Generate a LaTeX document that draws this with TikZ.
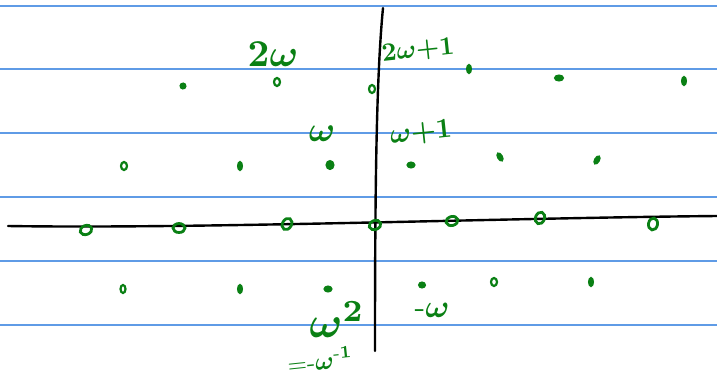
\documentclass[tikz,border=0pt]{standalone}
\usepackage{amsmath}
\usetikzlibrary{shapes.geometric}
\definecolor{ink}{RGB}{10,128,20}
\definecolor{rule}{RGB}{95,155,230}
\tikzset{
  ruleline/.style={rule, line width=1.1pt},
  axis/.style={black, line width=2.4pt, line cap=round},
  bigdot/.style={ellipse, draw=ink, line width=2.8pt, minimum width=12pt, minimum height=9pt, inner sep=0pt},
  smalldot/.style={ellipse, draw=ink, fill=ink, line width=2pt, minimum width=4pt, minimum height=5pt, inner sep=0pt},
  opendot/.style={ellipse, draw=ink, line width=2.2pt, minimum width=6pt, minimum height=8pt, inner sep=0pt},
  lab/.style={text=ink, inner sep=0pt, transform shape, font=\fontsize{10}{12}\selectfont\boldmath},
}
\begin{document}
\begin{tikzpicture}[x=1pt,y=-1pt]
\useasboundingbox (0,0) rectangle (717,378);
\fill[white] (0,0) rectangle (717,378);
% notebook rules
\foreach \yy in {6,69,133,197,261,325}
  \draw[ruleline] (0,\yy) -- (717,\yy);
% axes
\draw[axis] (8,226) .. controls (200,229) and (500,218) .. (717,216);
\draw[axis] (383,8) .. controls (376,80) and (375,200) .. (375,351);
% dots on real axis
\node[bigdot, rotate=20] (r1) at (86,230) {};
\node[bigdot] (r2) at (179,228) {};
\node[bigdot, rotate=60] (r3) at (287,224) {};
\node[bigdot, rotate=20] (r4) at (375,225) {};
\node[bigdot, rotate=15] (r5) at (452,221) {};
\node[bigdot, rotate=70] (r6) at (540,218) {};
\node[bigdot, rotate=80] (r7) at (653,224) {};
% top row
\node[smalldot, rotate=40, minimum width=5pt] (a1) at (183,86) {};
\node[opendot] (a2) at (277,82) {};
\node[opendot] (a3) at (372,89) {};
\node[smalldot, minimum height=8pt] (a4) at (469,69) {};
\node[smalldot, minimum width=8pt] (a5) at (559,78) {};
\node[smalldot, minimum height=8pt] (a6) at (684,81) {};
% middle row
\node[opendot] (b1) at (124,166) {};
\node[smalldot, minimum height=8pt] (b2) at (240,166) {};
\node[smalldot, minimum width=7pt, minimum height=8pt] (b3) at (330,165) {};
\node[smalldot, minimum width=7pt] (b4) at (411,165) {};
\node[smalldot, rotate=30, minimum height=8pt] (b5) at (500,157) {};
\node[smalldot, rotate=-30, minimum height=8pt] (b6) at (597,160) {};
% bottom row
\node[opendot, minimum width=5pt] (c1) at (123,289) {};
\node[smalldot, minimum height=8pt] (c2) at (240,289) {};
\node[smalldot, minimum width=7pt] (c3) at (328,289) {};
\node[smalldot, minimum width=6pt] (c4) at (422,285) {};
\node[opendot] (c5) at (494,282) {};
\node[smalldot, minimum height=8pt] (c6) at (591,282) {};
% labels
\node[lab, scale=3.8] (l2w) at (273,54) {$2\omega$};
\node[lab, scale=2.6, rotate=6] (l2w1) at (418,51) {$2\omega{+}1$};
\node[lab, scale=3.5] (lw) at (322,134) {$\omega$};
\node[lab, scale=2.8, rotate=6] (lw1) at (421,133) {$\omega{+}1$};
\node[lab, scale=4.4] (lw2) at (337,320) {$\omega^2$};
\node[lab, scale=3.2] (lmw) at (432,310) {-$\omega$};
\node[lab, scale=2.5, rotate=6] (lmwi) at (320,360) {=-$\omega^{\text{-}1}$};
\end{tikzpicture}
\end{document}
